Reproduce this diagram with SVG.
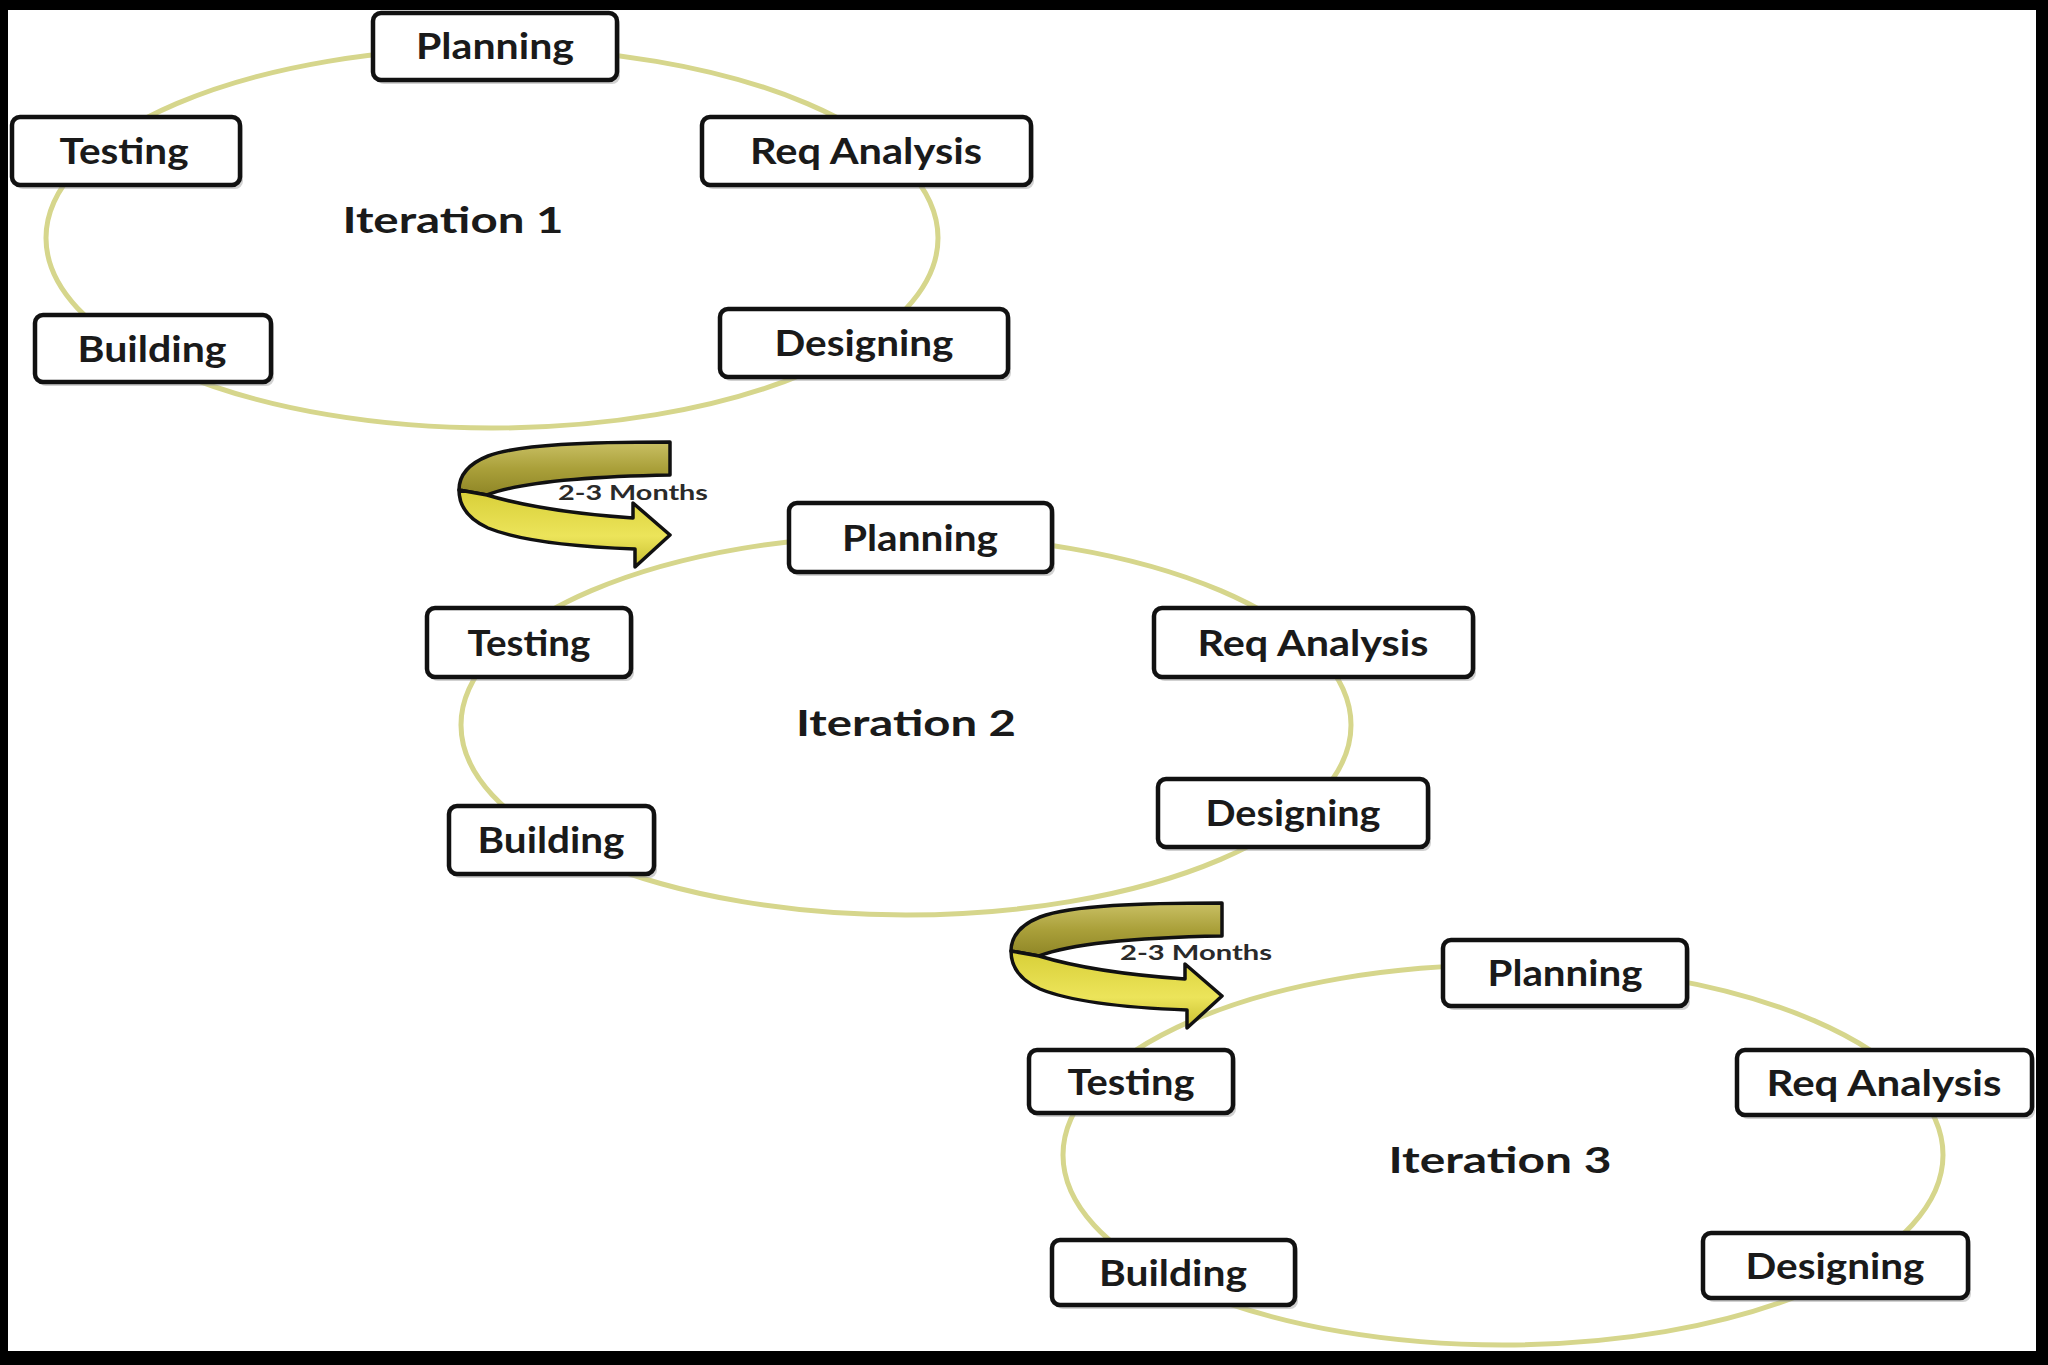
<svg xmlns="http://www.w3.org/2000/svg" xmlns:xlink="http://www.w3.org/1999/xlink" width="2048" height="1365" viewBox="0 0 2048 1365">
<style>
.cyc{fill:none;stroke:#d6d68c;stroke-width:5}
.box{fill:#ffffff;stroke:#111111;stroke-width:4.5}
.shd{fill:#9a9a9a;opacity:0.45}
.lbl{font-family:Lato,"Liberation Sans",sans-serif;font-weight:bold;font-size:36px;fill:#1a1a1a;text-anchor:middle}
.itr{font-family:Lato,"Liberation Sans",sans-serif;font-weight:bold;font-size:37px;fill:#1a1a1a;text-anchor:middle}
.mon{font-family:Lato,"Liberation Sans",sans-serif;font-weight:bold;font-size:20px;fill:#2a2a2a;text-anchor:middle}
.ar{stroke:#111111;stroke-width:3.5;stroke-linejoin:round}
</style>
<defs>
<linearGradient id="gBack" x1="0" y1="0" x2="0" y2="1">
<stop offset="0" stop-color="#c9c064"/>
<stop offset="0.5" stop-color="#aaa03a"/>
<stop offset="1" stop-color="#8f8626"/>
</linearGradient>
<linearGradient id="gFront" x1="0" y1="0" x2="0" y2="1">
<stop offset="0" stop-color="#d8cf38"/>
<stop offset="0.6" stop-color="#ece45a"/>
<stop offset="1" stop-color="#c8be30"/>
</linearGradient>
<g id="uturn">
<path class="ar" fill="url(#gBack)" d="M 670 442 C 590 442 520 444 488 456 C 468 464 459 476 459 490 L 487 495 C 510 486 560 477 670 475 Z"/>
<path class="ar" fill="url(#gFront)" d="M 459 490 C 459 505 466 518 488 528 C 520 541 580 547 635 549 L 635 567 L 670 535 L 633 503 L 633 518 C 590 515 530 508 487 495 Z"/>
</g>
</defs>
<rect x="0" y="0" width="2048" height="1365" fill="#000000"/>
<rect x="8" y="10" width="2028" height="1341" fill="#ffffff"/>

<g id="connectors">
<ellipse class="cyc" cx="492" cy="238" rx="446" ry="190"/>
<ellipse class="cyc" cx="906" cy="725" rx="445" ry="190"/>
<ellipse class="cyc" cx="1503" cy="1155" rx="440" ry="190"/>
<g id="arrow-1-2">
<use xlink:href="#uturn"/>
<text class="mon" x="633" y="500" textLength="150" lengthAdjust="spacingAndGlyphs">2-3 Months</text>
</g>
<g id="arrow-2-3">
<use xlink:href="#uturn" transform="translate(552,461)"/>
<text class="mon" x="1196" y="960" textLength="152" lengthAdjust="spacingAndGlyphs">2-3 Months</text>
</g>
</g>

<g id="iteration-1">
<text class="itr" x="453" y="233" textLength="221" lengthAdjust="spacingAndGlyphs">Iteration 1</text>
<g id="i1-planning"><rect class="shd" x="376" y="17" width="244" height="67" rx="8"/><rect class="box" x="373" y="13" width="244" height="67" rx="8"/><text class="lbl" x="495" y="59" textLength="158" lengthAdjust="spacingAndGlyphs">Planning</text></g>
<g id="i1-req"><rect class="shd" x="705" y="121" width="329" height="68" rx="8"/><rect class="box" x="702" y="117" width="329" height="68" rx="8"/><text class="lbl" x="866" y="164" textLength="232" lengthAdjust="spacingAndGlyphs">Req Analysis</text></g>
<g id="i1-designing"><rect class="shd" x="723" y="313" width="288" height="68" rx="8"/><rect class="box" x="720" y="309" width="288" height="68" rx="8"/><text class="lbl" x="864" y="356" textLength="179" lengthAdjust="spacingAndGlyphs">Designing</text></g>
<g id="i1-building"><rect class="shd" x="38" y="319" width="236" height="67" rx="8"/><rect class="box" x="35" y="315" width="236" height="67" rx="8"/><text class="lbl" x="152" y="362" textLength="149" lengthAdjust="spacingAndGlyphs">Building</text></g>
<g id="i1-testing"><rect class="shd" x="15" y="121" width="228" height="68" rx="8"/><rect class="box" x="12" y="117" width="228" height="68" rx="8"/><text class="lbl" x="124" y="164" textLength="129" lengthAdjust="spacingAndGlyphs">Testing</text></g>
</g>

<g id="iteration-2">
<text class="itr" x="906" y="736" textLength="220" lengthAdjust="spacingAndGlyphs">Iteration 2</text>
<g id="i2-planning"><rect class="shd" x="792" y="507" width="263" height="69" rx="8"/><rect class="box" x="789" y="503" width="263" height="69" rx="8"/><text class="lbl" x="920" y="551" textLength="156" lengthAdjust="spacingAndGlyphs">Planning</text></g>
<g id="i2-req"><rect class="shd" x="1157" y="612" width="319" height="69" rx="8"/><rect class="box" x="1154" y="608" width="319" height="69" rx="8"/><text class="lbl" x="1313" y="656" textLength="231" lengthAdjust="spacingAndGlyphs">Req Analysis</text></g>
<g id="i2-designing"><rect class="shd" x="1161" y="783" width="270" height="68" rx="8"/><rect class="box" x="1158" y="779" width="270" height="68" rx="8"/><text class="lbl" x="1293" y="826" textLength="175" lengthAdjust="spacingAndGlyphs">Designing</text></g>
<g id="i2-building"><rect class="shd" x="452" y="810" width="205" height="68" rx="8"/><rect class="box" x="449" y="806" width="205" height="68" rx="8"/><text class="lbl" x="551" y="853" textLength="147" lengthAdjust="spacingAndGlyphs">Building</text></g>
<g id="i2-testing"><rect class="shd" x="430" y="612" width="204" height="69" rx="8"/><rect class="box" x="427" y="608" width="204" height="69" rx="8"/><text class="lbl" x="529" y="656" textLength="123" lengthAdjust="spacingAndGlyphs">Testing</text></g>
</g>

<g id="iteration-3">
<text class="itr" x="1500" y="1173" textLength="223" lengthAdjust="spacingAndGlyphs">Iteration 3</text>
<g id="i3-planning"><rect class="shd" x="1446" y="944" width="244" height="66" rx="8"/><rect class="box" x="1443" y="940" width="244" height="66" rx="8"/><text class="lbl" x="1565" y="986" textLength="155" lengthAdjust="spacingAndGlyphs">Planning</text></g>
<g id="i3-req"><rect class="shd" x="1740" y="1054" width="295" height="65" rx="8"/><rect class="box" x="1737" y="1050" width="295" height="65" rx="8"/><text class="lbl" x="1884" y="1096" textLength="235" lengthAdjust="spacingAndGlyphs">Req Analysis</text></g>
<g id="i3-designing"><rect class="shd" x="1706" y="1237" width="265" height="65" rx="8"/><rect class="box" x="1703" y="1233" width="265" height="65" rx="8"/><text class="lbl" x="1835" y="1279" textLength="179" lengthAdjust="spacingAndGlyphs">Designing</text></g>
<g id="i3-building"><rect class="shd" x="1055" y="1244" width="243" height="65" rx="8"/><rect class="box" x="1052" y="1240" width="243" height="65" rx="8"/><text class="lbl" x="1173" y="1286" textLength="148" lengthAdjust="spacingAndGlyphs">Building</text></g>
<g id="i3-testing"><rect class="shd" x="1032" y="1054" width="204" height="63" rx="8"/><rect class="box" x="1029" y="1050" width="204" height="63" rx="8"/><text class="lbl" x="1131" y="1095" textLength="127" lengthAdjust="spacingAndGlyphs">Testing</text></g>
</g>
</svg>
